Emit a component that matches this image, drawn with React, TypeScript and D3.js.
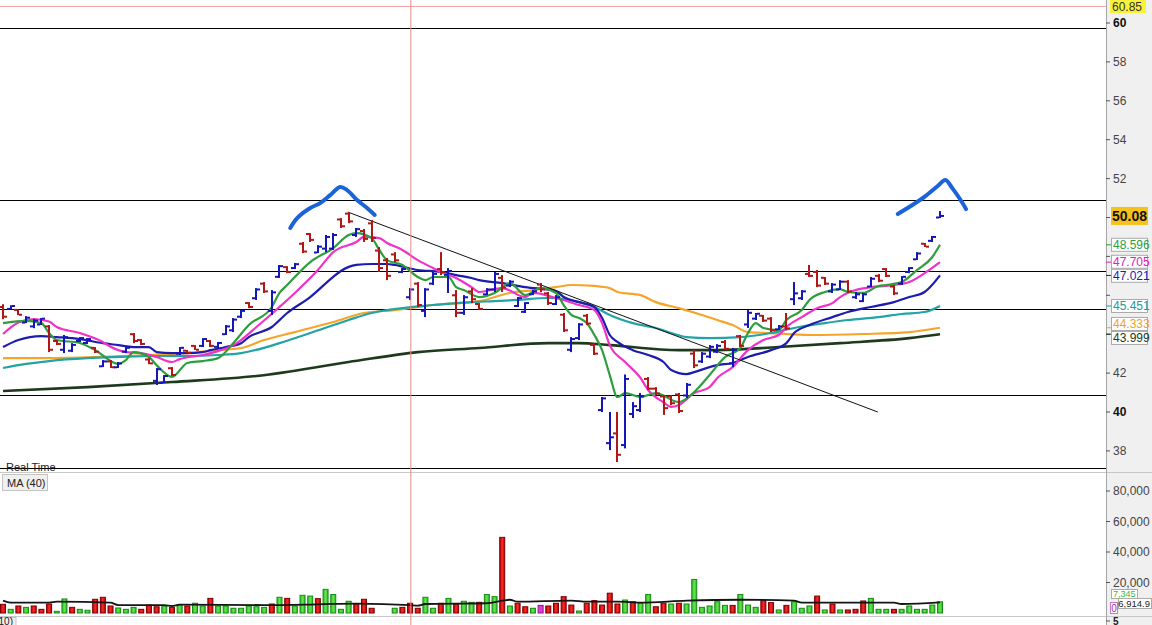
import { scaleLinear, line, curveMonotoneX, curveCatmullRom, format } from "d3";

// price bars (bar index 0..122)
const opens = [
  45.4, 45.3, 45.25, 44.6, 44.4, 44.5, 44.4, 43.65, 43.2, 43.15,
  43.65, 43.55, 43.3, 42.35, 42.6, 42.3, 43.1, 44.0, 43.7, 42.7,
  41.6, 41.5, 42.25, 43.0, 43.15, 43.4, 43.4, 43.65, 43.35, 44.0,
  44.2, 44.9, 45.6, 45.85, 46.6, 45.2, 46.95, 47.45, 47.4, 48.65,
  49.15, 48.2, 48.4, 48.4, 49.9, 50.2, 49.1, 49.3, 49.7, 48.3,
  47.8, 48.1, 47.2, 45.9, 46.6, 45.2, 46.6, 47.35, 47.05, 46.0,
  45.1, 46.2, 45.55, 46.05, 46.3, 46.9, 46.5, 45.45, 45.15, 46.05,
  46.55, 46.1, 45.55, 45.0, 43.2, 43.8, 44.95, 43.45, 40.1, 38.4,
  38.9, 38.3, 39.9, 40.1, 41.7, 41.2, 40.8, 40.8, 40.9, 40.85,
  43.0, 42.6, 42.85, 43.1, 43.6, 42.5, 43.9, 44.5, 44.8, 44.95,
  44.8, 44.25, 44.4, 45.8, 45.85, 47.1, 47.2, 46.9, 46.2, 46.3,
  46.7, 45.9, 45.7, 46.45, 47.0, 47.35, 46.45, 46.6, 47.2, 47.85,
  48.65, 48.8, 50.0,
];
const highs = [
  45.54, 45.49, 45.28, 44.93, 44.78, 44.83, 44.47, 43.7, 43.96, 43.54,
  43.85, 43.8, 43.34, 42.67, 42.67, 42.57, 43.34, 44.06, 43.75, 42.77,
  42.26, 41.9, 42.31, 43.34, 43.19, 43.44, 43.8, 43.7, 43.6, 44.47,
  44.83, 45.24, 45.65, 46.37, 46.68, 46.27, 47.56, 47.5, 47.66, 48.74,
  49.2, 48.58, 49.1, 49.2, 49.97, 50.28, 49.46, 49.41, 49.87, 48.48,
  47.92, 48.22, 47.4, 46.37, 46.68, 46.37, 47.2, 48.22, 47.4, 46.27,
  46.01, 46.37, 45.6, 46.37, 47.2, 47.04, 46.78, 45.91, 45.65, 46.27,
  46.63, 46.17, 46.01, 45.09, 43.85, 44.57, 45.04, 43.54, 40.77, 40.0,
  40.0, 41.93, 40.51, 40.98, 41.8, 41.28, 40.87, 40.87, 40.98, 41.49,
  43.19, 43.08, 43.44, 43.49, 43.7, 43.29, 43.96, 45.24, 45.09, 44.99,
  44.88, 44.47, 45.09, 46.68, 46.27, 47.56, 47.3, 46.94, 46.63, 46.78,
  46.78, 46.17, 46.12, 46.94, 47.09, 47.4, 46.53, 46.99, 47.45, 48.22,
  48.69, 49.05, 50.33,
];
const lows = [
  44.77, 45.28, 44.98, 44.57, 44.31, 44.47, 43.08, 43.44, 43.03, 43.08,
  43.6, 43.49, 43.03, 42.31, 42.26, 42.26, 43.03, 43.54, 43.44, 42.46,
  41.39, 41.49, 41.85, 42.93, 43.03, 43.19, 43.34, 43.34, 43.29, 43.96,
  44.11, 44.83, 45.34, 45.76, 46.12, 44.99, 46.89, 47.14, 47.35, 48.17,
  48.74, 48.17, 48.22, 48.33, 49.46, 49.71, 49.0, 48.74, 48.74, 47.2,
  46.78, 47.71, 47.14, 45.76, 45.4, 44.88, 46.53, 47.04, 46.12, 44.88,
  44.99, 45.6, 45.24, 46.01, 46.17, 46.17, 46.42, 45.4, 45.09, 46.01,
  46.17, 45.5, 45.5, 44.11, 43.08, 43.7, 44.47, 42.93, 40.0, 38.04,
  37.43, 38.13, 39.69, 40.0, 41.13, 40.87, 39.85, 40.36, 39.95, 40.72,
  42.26, 42.52, 42.77, 43.03, 43.19, 42.31, 43.34, 44.32, 44.73, 44.63,
  44.11, 44.21, 44.21, 45.5, 45.76, 46.94, 46.42, 46.53, 46.12, 46.27,
  46.12, 45.81, 45.65, 46.42, 46.68, 46.94, 46.01, 46.53, 47.14, 47.81,
  48.48, 48.74, 49.97,
];
const closes = [
  44.9, 45.45, 45.0, 44.85, 44.7, 44.8, 43.2, 43.5, 43.85, 43.45,
  43.8, 43.75, 43.1, 42.6, 42.3, 42.5, 43.3, 43.65, 43.5, 42.5,
  42.2, 41.85, 41.9, 43.3, 43.05, 43.2, 43.75, 43.4, 43.55, 44.4,
  44.75, 45.2, 45.4, 46.3, 46.2, 46.15, 47.5, 47.2, 47.6, 48.25,
  48.85, 48.5, 49.0, 49.1, 49.55, 49.8, 49.4, 48.9, 48.95, 47.4,
  47.0, 47.8, 47.35, 46.3, 45.5, 46.3, 47.1, 47.2, 47.25, 45.1,
  45.9, 45.8, 45.3, 46.3, 47.1, 46.4, 46.7, 45.85, 45.6, 46.2,
  46.3, 45.6, 45.9, 44.2, 43.75, 44.5, 44.55, 43.0, 40.7, 38.7,
  37.8, 41.7, 40.3, 40.8, 41.2, 40.95, 40.2, 40.45, 40.05, 41.4,
  42.4, 43.0, 43.35, 43.4, 43.25, 43.2, 43.4, 45.1, 45.05, 44.7,
  44.2, 44.4, 44.3, 46.1, 46.2, 47.0, 46.5, 46.6, 46.55, 46.7,
  46.2, 46.05, 46.05, 46.85, 46.75, 47.0, 46.1, 46.95, 47.4, 48.15,
  48.5, 49.0, 50.08,
];

const volumes = [
  5700, 2400, 4600, 3700, 4600, 2400, 5900, 1100, 9200, 3700,
  2400, 1800, 9000, 10300, 4600, 3300, 2400, 3700, 2400, 5200,
  4100, 4600, 3700, 5400, 4600, 6400, 4600, 9600, 4600, 4600,
  3100, 3100, 4600, 4100, 3700, 5900, 10300, 9600, 4600, 11600,
  11100, 9400, 15500, 12100, 2400, 7700, 5900, 9000, 3100, 0,
  0, 3100, 3700, 6400, 3100, 10300, 3100, 6400, 9600, 5700,
  7700, 7000, 7000, 12100, 10700, 49600, 4600, 6400, 4100, 3100,
  5000, 4600, 6400, 10700, 5200, 1300, 6400, 8100, 5200, 13000,
  5900, 8500, 7400, 6400, 12100, 4100, 6400, 5900, 6400, 5900,
  22000, 3700, 4600, 7400, 5000, 5000, 12100, 5200, 3700, 8100,
  6800, 2000, 5000, 7400, 3100, 4600, 11100, 2000, 5900, 2000,
  2000, 2400, 7900, 9600, 2400, 2400, 2400, 2400, 4600, 2400,
  2400, 5200, 7345,
];
// r = down, g = up, m = unchanged
const volumeTone = (
  "rgrgrrrggr" + "ggrrrgggrr" + "rgrgrggrgg" + "gggggrgrgg" + "grggggrrrg" +
  "ggrrrggrgr" + "ggrggrgrrg" + "mrrrrgrrrr" + "rgrggrrgrg" + "gggggrgggr" +
  "rgrgggrgrg" + "rrrgggrggg" + "ggg"
).split("");

// moving averages as [bar index, value]
const maGreen: [number, number][] = [
  [0, 44.57], [3, 44.68], [5, 44.57], [6, 44.06], [7, 43.7], [10, 43.55], [12, 43.18], [15, 42.47],
  [16, 42.67], [17, 43.08], [19, 42.83], [20, 42.41], [22, 41.8], [24, 42.52], [26, 42.62], [28, 42.77],
  [30, 43.55], [32, 44.47], [35, 45.4], [36, 46.12], [37, 46.53], [40, 47.71], [43, 48.43], [45, 49.1],
  [46, 49.2], [48, 48.94], [49, 48.33], [50, 47.81], [52, 47.56], [54, 46.94], [55, 46.78], [56, 46.94],
  [58, 46.94], [59, 46.42], [60, 46.27], [62, 45.91], [64, 46.12], [66, 46.63], [68, 46.01], [70, 46.37],
  [72, 46.12], [73, 45.5], [74, 44.99], [75, 44.83], [76, 44.57], [77, 43.96], [78, 43.18], [79, 41.9],
  [80, 40.77], [81, 40.97], [83, 40.77], [85, 40.97], [88, 40.51], [90, 41.03], [92, 41.9], [94, 42.82],
  [96, 43.29], [97, 44.06], [98, 44.57], [99, 44.32], [101, 44.21], [102, 44.73], [104, 45.24], [105, 45.76],
  [107, 46.17], [109, 46.32], [110, 46.17], [112, 46.12], [114, 46.48], [115, 46.53], [117, 46.68],
  [119, 47.3], [121, 47.97], [122, 48.596],
];
const maMagenta: [number, number][] = [
  [0, 44.01], [2, 44.6], [4, 44.78], [6, 44.65], [7, 44.37], [10, 44.06], [13, 43.6], [14, 43.35],
  [16, 43.08], [18, 43.03], [20, 42.83], [22, 42.57], [23, 42.72], [26, 42.93], [28, 43.13], [30, 43.44],
  [31, 43.7], [33, 44.37], [36, 45.4], [38, 46.12], [41, 47.3], [43, 48.22], [46, 48.74], [47, 49.0],
  [49, 48.94], [50, 48.69], [52, 48.33], [54, 47.81], [56, 47.4], [57, 47.2], [59, 46.89], [61, 46.42],
  [62, 46.17], [65, 46.37], [68, 45.91], [69, 46.12], [72, 45.86], [75, 45.5], [77, 45.24], [78, 44.57],
  [79, 43.44], [81, 42.57], [83, 41.75], [84, 41.13], [86, 40.5], [87, 40.26], [88, 40.36], [90, 40.97],
  [92, 41.28], [93, 41.75], [95, 42.31], [97, 43.18], [99, 43.7], [101, 43.96], [102, 44.37], [104, 44.88],
  [106, 45.34], [108, 45.6], [109, 45.91], [111, 46.27], [113, 46.42], [115, 46.48], [116, 46.53],
  [118, 46.68], [120, 47.14], [122, 47.705],
];
const maBlue: [number, number][] = [
  [0, 43.34], [2, 43.7], [5, 43.9], [7, 43.85], [10, 43.75], [13, 43.54], [15, 43.44], [17, 43.34],
  [19, 43.34], [20, 43.08], [22, 43.03], [24, 43.03], [26, 43.08], [27, 43.18], [29, 43.34], [31, 43.54],
  [32, 43.85], [35, 44.37], [37, 45.09], [40, 45.91], [43, 46.95], [44, 47.25], [46, 47.56], [48, 47.61],
  [50, 47.61], [51, 47.56], [54, 47.3], [57, 47.2], [59, 47.04], [61, 46.89], [62, 46.78], [65, 46.63],
  [68, 46.42], [72, 46.22], [73, 45.91], [75, 45.65], [77, 45.4], [78, 44.83], [79, 43.96], [80, 43.6],
  [82, 43.18], [84, 42.93], [86, 42.57], [87, 42.16], [89, 41.95], [90, 42.05], [92, 42.31], [93, 42.41],
  [95, 42.52], [97, 42.83], [100, 43.18], [102, 43.54], [103, 44.06], [105, 44.47], [108, 44.88],
  [110, 45.14], [113, 45.4], [116, 45.65], [118, 45.91], [120, 46.17], [122, 47.021],
];
const maTeal: [number, number][] = [
  [0, 42.26], [3, 42.47], [6, 42.62], [11, 42.77], [15, 42.83], [20, 42.88], [24, 42.88], [28, 42.93],
  [31, 43.03], [34, 43.3], [36, 43.54], [40, 44.06], [45, 44.73], [48, 45.09], [50, 45.24], [56, 45.5],
  [61, 45.65], [64, 45.7], [67, 45.76], [71, 45.86], [75, 45.65], [77, 45.4], [79, 44.99], [82, 44.57],
  [85, 44.32], [87, 44.06], [89, 43.85], [92, 43.8], [96, 43.85], [100, 44.06], [103, 44.32], [107, 44.57],
  [110, 44.73], [114, 44.88], [117, 45.04], [120, 45.14], [122, 45.451],
];
const maOrange: [number, number][] = [
  [0, 42.77], [6, 42.77], [13, 42.83], [19, 42.93], [24, 43.03], [28, 43.18], [31, 43.29], [34, 43.7],
  [38, 44.11], [43, 44.63], [47, 45.09], [51, 45.24], [56, 45.5], [62, 45.7], [66, 46.12], [69, 46.27],
  [72, 46.42], [74, 46.53], [77, 46.48], [79, 46.37], [80, 46.17], [83, 46.01], [85, 45.65], [88, 45.34],
  [91, 44.99], [93, 44.73], [95, 44.47], [97, 44.11], [100, 44.06], [105, 43.96], [112, 44.01],
  [118, 44.11], [122, 44.333],
];
const maDark: [number, number][] = [
  [0, 41.08], [11, 41.28], [22, 41.54], [33, 41.85], [45, 42.57], [54, 43.08], [62, 43.29], [71, 43.54],
  [75, 43.54], [79, 43.44], [88, 43.18], [93, 43.18], [101, 43.34], [109, 43.54], [118, 43.8], [122, 43.999],
];
const volumeMa: [number, number][] = [
  [0, 8100], [1, 6800], [6, 6800], [7, 7400], [14, 6800], [15, 5200], [21, 5200], [22, 4600], [23, 5500],
  [34, 5200], [41, 5700], [46, 6200], [53, 5200], [54, 4800], [55, 5900], [63, 6400], [65, 8100],
  [66, 8700], [67, 7400], [74, 8100], [76, 7400], [80, 7400], [83, 6800], [89, 8100], [96, 8700],
  [103, 8100], [104, 6800], [116, 6800], [117, 5900], [122, 6914.9],
];

// drawings on the chart
const trendLine: [number, number][] = [[44.9, 50.28], [113.9, 40.0]];
const arcLeft: [number, number][] = [
  [37.4, 49.46], [38.3, 49.97], [40, 50.49], [41.3, 50.74], [42.6, 51.15], [43.9, 51.57],
  [44.8, 51.41], [46.1, 50.9], [47.4, 50.49], [48.4, 50.13],
];
const arcRight: [number, number][] = [
  [116.5, 50.18], [118.4, 50.64], [120.1, 51.1], [121.7, 51.62], [122.7, 51.93],
  [123.6, 51.51], [124.6, 50.95], [125.4, 50.43],
];
const levelLines = [59.74, 50.9, 47.25, 45.29, 40.87, 37.14];
const highMark = 60.85;
const cursorBar = 53.1;
const lastPrice = 50.08;
const priceTicks = [38, 40, 42, 44, 46, 48, 50, 52, 54, 56, 58, 60];
const boldTicks = [40, 60];
const volumeTicks = [20000, 40000, 60000, 80000];
const volumeMaLast = 6914.9;

const FONT = "'Liberation Sans', Arial, sans-serif";
const AXIS_X = 1106;

const maStyles = [
  { data: maDark, color: "#1d3a1d", w: 2.6, label: "#1d3a1d" },
  { data: maOrange, color: "#f5a52a", w: 2.2, label: "#f0a030" },
  { data: maTeal, color: "#22a3a6", w: 2.2, label: "#1a9a9a" },
  { data: maBlue, color: "#1c1cae", w: 2.2, label: "#1c1cae" },
  { data: maMagenta, color: "#f032c8", w: 2.2, label: "#e020c0" },
  { data: maGreen, color: "#2e9d3e", w: 2.2, label: "#2e9d3e" },
];

export default function App() {
  const x = scaleLinear().domain([0, 122]).range([3, 940]);
  const y = scaleLinear().domain([40, 60]).range([412, 23]);
  const yv = scaleLinear().domain([0, 80000]).range([613, 491]);

  const maPath = line<[number, number]>()
    .x((d) => x(d[0]))
    .y((d) => y(d[1]))
    .curve(curveMonotoneX);
  const arcPath = line<[number, number]>()
    .x((d) => x(d[0]))
    .y((d) => y(d[1]))
    .curve(curveCatmullRom);
  const volPath = line<[number, number]>()
    .x((d) => x(d[0]))
    .y((d) => yv(d[1]))
    .curve(curveMonotoneX);

  // last-value labels, pushed apart so they do not overlap
  const labels = maStyles
    .map((m) => {
      const v = m.data[m.data.length - 1][1];
      return { v, y: y(v), color: m.label };
    })
    .sort((a, b) => a.y - b.y);
  for (let i = 1; i < labels.length; i++) {
    if (labels[i].y - labels[i - 1].y < 14) {
      const mid = (labels[i].y + labels[i - 1].y) / 2;
      labels[i - 1].y = mid - 7;
      labels[i].y = mid + 7;
    }
  }
  // price ticks whose text sits under a value box are left without text
  const covered = (t: number) =>
    Math.abs(y(t) - y(lastPrice)) < 16 || labels.some((l) => Math.abs(y(t) - l.y) < 11);

  const cx = x(cursorBar);
  const fmt = format(",");

  return (
    <svg
      width={1152}
      height={625}
      style={{ position: "absolute", left: 0, top: 0, background: "#fff", fontFamily: FONT }}
    >
      <defs>
        <clipPath id="pricePane">
          <rect x={0} y={0} width={AXIS_X} height={470} />
        </clipPath>
        <linearGradient id="redBar" x1="0" x2="1" y1="0" y2="0">
          <stop offset="0" stopColor="#b30000" />
          <stop offset="0.5" stopColor="#ff2a2a" />
          <stop offset="1" stopColor="#b30000" />
        </linearGradient>
        <linearGradient id="greenBar" x1="0" x2="1" y1="0" y2="0">
          <stop offset="0" stopColor="#2fb52f" />
          <stop offset="0.5" stopColor="#66e64a" />
          <stop offset="1" stopColor="#2fb52f" />
        </linearGradient>
      </defs>

      {/* right axis background */}
      <rect x={AXIS_X} y={0} width={1152 - AXIS_X} height={625} fill="#f0f0f0" />

      <g clipPath="url(#pricePane)">
        <line x1={0} x2={AXIS_X} y1={y(highMark)} y2={y(highMark)} stroke="#f2a0a0" strokeWidth={1} />
        {levelLines.map((p) => (
          <line key={p} x1={0} x2={AXIS_X} y1={Math.round(y(p)) + 0.5} y2={Math.round(y(p)) + 0.5} stroke="#000" strokeWidth={1} />
        ))}

        {maStyles.map((m, i) => (
          <path key={i} d={maPath(m.data) || ""} fill="none" stroke={m.color} strokeWidth={m.w} strokeLinejoin="round" />
        ))}

        <path d={maPath(trendLine) || ""} fill="none" stroke="#111" strokeWidth={1} />

        {opens.map((o, i) => {
          const c = closes[i];
          const col = c >= o ? "#1616b8" : "#b01818";
          const bx = Math.round(x(i));
          return (
            <g key={i} fill={col}>
              <rect x={bx - 1} y={y(highs[i])} width={2} height={Math.max(2, y(lows[i]) - y(highs[i]))} />
              <rect x={bx - 4} y={y(o) - 1} width={3} height={2} />
              <rect x={bx + 1} y={y(c) - 1} width={3} height={2} />
            </g>
          );
        })}

        <path d={arcPath(arcLeft) || ""} fill="none" stroke="#1c62d8" strokeWidth={4} strokeLinecap="round" />
        <path d={arcPath(arcRight) || ""} fill="none" stroke="#1c62d8" strokeWidth={4} strokeLinecap="round" />
      </g>

      {/* pane labels */}
      <text x={6} y={471} fontSize={11} fill="#222">Real Time</text>
      <line x1={0} x2={1152} y1={472.5} y2={472.5} stroke="#c8c8c8" />
      <rect x={2.5} y={474.5} width={45} height={16} fill="#f0f0f0" stroke="#c4c4c4" />
      <text x={7} y={487} fontSize={11} fill="#222">MA (40)</text>

      {/* volume pane */}
      {volumes.map((v, i) => {
        if (v <= 0) return null;
        const t = volumeTone[i];
        const fill = t === "g" ? "url(#greenBar)" : t === "m" ? "#e23ce2" : "url(#redBar)";
        const stroke = t === "g" ? "#148c14" : t === "m" ? "#8a148a" : "#7a0000";
        const bx = x(i);
        return (
          <rect key={i} x={bx - 2.5} y={yv(v)} width={5} height={yv(0) - yv(v)} fill={fill} stroke={stroke} strokeWidth={1} />
        );
      })}
      <path d={volPath(volumeMa) || ""} fill="none" stroke="#151515" strokeWidth={1.8} />

      {/* bottom pane edge */}
      <line x1={0} x2={1152} y1={616.5} y2={616.5} stroke="#c8c8c8" />
      <rect x={-30} y={617.5} width={46} height={14} fill="#f0f0f0" stroke="#c4c4c4" />
      <text x={13} y={625} fontSize={10} textAnchor="end" fill="#222">MA (10)</text>

      {/* cursor line */}
      <line x1={cx} x2={cx} y1={0} y2={625} stroke="#f08a8a" strokeWidth={1} />

      {/* right axis */}
      <line x1={AXIS_X + 0.5} x2={AXIS_X + 0.5} y1={0} y2={625} stroke="#a6a6a6" />
      {priceTicks.map((t) => {
        const bold = boldTicks.includes(t);
        return (
          <g key={t}>
            <line x1={AXIS_X} x2={AXIS_X + 4} y1={y(t)} y2={y(t)} stroke="#555" />
            {!covered(t) && (
              <text x={1113} y={y(t)} dy="0.35em" fontSize={12} fontWeight={bold ? "bold" : "normal"} fill={bold ? "#111" : "#444"}>
                {t}
              </text>
            )}
          </g>
        );
      })}
      {volumeTicks.map((t) => (
        <g key={t}>
          <line x1={AXIS_X} x2={AXIS_X + 4} y1={yv(t)} y2={yv(t)} stroke="#555" />
          <text x={1113} y={yv(t)} dy="0.35em" fontSize={12} fill="#444">{fmt(t)}</text>
        </g>
      ))}
      <line x1={AXIS_X} x2={AXIS_X + 4} y1={621} y2={621} stroke="#555" />
      <text x={1113} y={624.5} fontSize={10} fill="#222" fontWeight="bold">5</text>

      {/* high marker label */}
      <rect x={1110} y={0} width={36} height={13} fill="#f6f23a" />
      <text x={1112} y={6.5} dy="0.35em" fontSize={12} fill="#333">{highMark.toFixed(2)}</text>

      {/* MA last values */}
      {labels.map((l) => (
        <g key={l.v}>
          <line x1={AXIS_X} x2={AXIS_X + 5} y1={y(l.v)} y2={y(l.v)} stroke={l.color} />
          <rect x={1111.5} y={l.y - 6.5} width={36} height={13} fill="#fff" stroke="#aaa" />
          <text x={1113} y={l.y} dy="0.36em" fontSize={12} fill={l.color}>{l.v.toFixed(3)}</text>
        </g>
      ))}

      {/* last price */}
      <rect x={1111} y={y(lastPrice) - 9} width={37} height={18} fill="#f6c11c" />
      <text x={1112} y={y(lastPrice)} dy="0.36em" fontSize={14} fontWeight="bold" fill="#111">
        {lastPrice.toFixed(2)}
      </text>

      {/* volume last values */}
      <rect x={1118.5} y={598.5} width={33} height={10} fill="#fff" stroke="#aaa" />
      <text x={1150} y={603.5} dy="0.36em" fontSize={9.5} textAnchor="end" fill="#222">{fmt(volumeMaLast)}</text>
      <rect x={1111.5} y={589.5} width={26} height={9} fill="#fff" stroke="#aaa" />
      <text x={1113} y={594} dy="0.36em" fontSize={9} fill="#3cb83c">{fmt(volumes[122])}</text>
      <rect x={1110.5} y={602.5} width={7} height={11} fill="#fff" stroke="#c080c0" />
      <text x={1111.3} y={608} dy="0.36em" fontSize={10} fill="#c020c0">0</text>
    </svg>
  );
}
